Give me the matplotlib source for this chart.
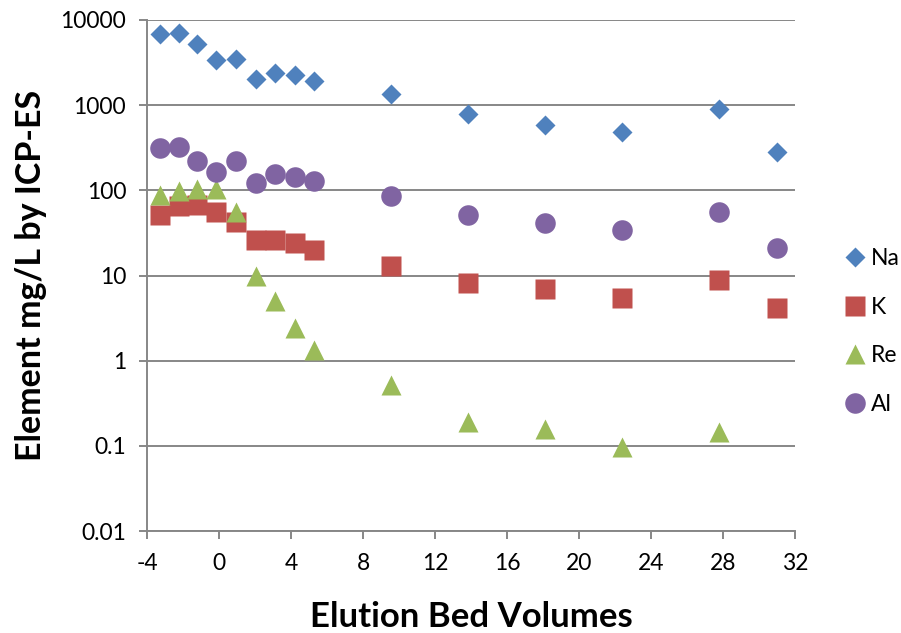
import matplotlib.pyplot as plt
from matplotlib.ticker import FixedLocator, FixedFormatter, NullLocator

plt.rcParams['font.family'] = ['Lato', 'DejaVu Sans']

# bed volumes for the early (dense) and late samples
bv = [-3.3, -2.25, -1.2, -0.15, 0.95, 2.05, 3.1, 4.2, 5.25,
      9.55, 13.85, 18.1, 22.4, 27.8, 31.0]

na = [6790, 6980, 5230, 3400, 3510, 2030, 2400, 2260, 1900,
      1340, 780, 590, 485, 900, 280]
k = [52, 66, 68, 55, 43, 26, 26, 24, 20,
     12.9, 8.1, 7.0, 5.5, 8.9, 4.2]
re_bv = bv[:14]
re = [87, 98, 103, 103, 56, 10, 5.0, 2.45, 1.34,
      0.515, 0.193, 0.158, 0.098, 0.145]
al = [317, 326, 223, 166, 220, 122, 155, 145, 127,
      86, 51, 41, 34, 56, 21]

y_ticks = [0.01, 0.1, 1, 10, 100, 1000, 10000]
y_labels = ['0.01', '0.1', '1', '10', '100', '1000', '10000']
x_ticks = [-4, 0, 4, 8, 12, 16, 20, 24, 28, 32]

fig = plt.figure(figsize=(9.01, 6.33), dpi=100)
ax = fig.add_axes([147 / 901, 1 - 531 / 633, 648 / 901, 511 / 633])

ax.plot(bv, na, 'D', color='#4F81BD', ms=10, mec='none', label='Na')
ax.plot(bv, k, 's', color='#C0504D', ms=14.4, mec='none', label='K')
ax.plot(re_bv, re, '^', color='#9BBB59', ms=14.4, mec='none', label='Re')
ax.plot(bv, al, 'o', color='#8064A2', ms=14.8, mec='none', label='Al')

ax.set_yscale('log')
ax.set_ylim(0.01, 10000)
ax.set_xlim(-4, 32)
ax.yaxis.set_major_locator(FixedLocator(y_ticks))
ax.yaxis.set_major_formatter(FixedFormatter(y_labels))
ax.yaxis.set_minor_locator(NullLocator())
ax.set_xticks(x_ticks)
ax.set_xticklabels([str(t) for t in x_ticks])

grey = '#878787'
ax.grid(axis='y', color=grey, lw=1.4)
ax.set_axisbelow(True)
for s in ['top', 'right']:
    ax.spines[s].set_visible(False)
for s in ['left', 'bottom']:
    ax.spines[s].set_color(grey)
    ax.spines[s].set_linewidth(1.4)
ax.tick_params(axis='both', colors=grey, labelcolor='black', width=1.4,
               length=6, labelsize=16.5)
ax.tick_params(axis='x', pad=10)
ax.tick_params(axis='y', pad=9)

ax.set_xlabel('Elution Bed Volumes', fontsize=25, fontweight='bold', labelpad=19)
ax.set_ylabel('Element mg/L by ICP-ES', fontsize=24.5, fontweight='bold', labelpad=10)

ax.legend(loc='center left', bbox_to_anchor=(1.052, 0.39), frameon=False,
          fontsize=16.5, handletextpad=0.05, labelspacing=1.2, borderpad=0,
          handlelength=1.3)

plt.savefig('out.png', dpi=100)
